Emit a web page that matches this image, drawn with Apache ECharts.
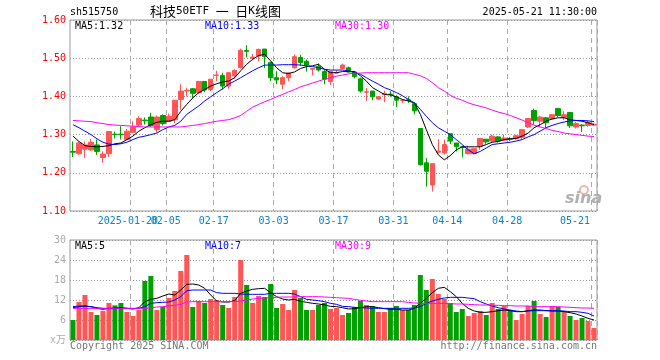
<!DOCTYPE html>
<html><head><meta charset="utf-8">
<script src="https://cdn.jsdelivr.net/npm/echarts@6/dist/echarts.min.js"></script>
<style>html,body{margin:0;padding:0;background:#fff}#c{width:660px;height:360px}</style>
</head><body><div id="c"></div>
<script>
const dates = [
 '2025-01-06','2025-01-07','2025-01-08','2025-01-09','2025-01-10','2025-01-13','2025-01-14','2025-01-15','2025-01-16','2025-01-17',
 '2025-01-20','2025-01-21','2025-01-22','2025-01-23','2025-01-24','2025-01-27','2025-02-05','2025-02-06','2025-02-07','2025-02-10',
 '2025-02-11','2025-02-12','2025-02-13','2025-02-14','2025-02-17','2025-02-18','2025-02-19','2025-02-20','2025-02-21','2025-02-24',
 '2025-02-25','2025-02-26','2025-02-27','2025-02-28','2025-03-03','2025-03-04','2025-03-05','2025-03-06','2025-03-07','2025-03-10',
 '2025-03-11','2025-03-12','2025-03-13','2025-03-14','2025-03-17','2025-03-18','2025-03-19','2025-03-20','2025-03-21','2025-03-24',
 '2025-03-25','2025-03-26','2025-03-27','2025-03-28','2025-03-31','2025-04-01','2025-04-02','2025-04-03','2025-04-07','2025-04-08',
 '2025-04-09','2025-04-10','2025-04-11','2025-04-14','2025-04-15','2025-04-16','2025-04-17','2025-04-18','2025-04-21','2025-04-22',
 '2025-04-23','2025-04-24','2025-04-25','2025-04-28','2025-04-29','2025-04-30','2025-05-06','2025-05-07','2025-05-08','2025-05-09',
 '2025-05-12','2025-05-13','2025-05-14','2025-05-15','2025-05-16','2025-05-19','2025-05-20','2025-05-21'];
const labelDates = ['2025-01-20','2025-02-05','2025-02-17','2025-03-03','2025-03-17','2025-03-31','2025-04-14','2025-04-28','2025-05-21'];

const opens = [1.256,1.250,1.262,1.260,1.273,1.240,1.250,1.301,1.301,1.287,
 1.306,1.325,1.338,1.346,1.313,1.350,1.335,1.339,1.392,1.414,
 1.420,1.410,1.439,1.418,1.455,1.455,1.427,1.454,1.475,1.520,
 1.500,1.506,1.524,1.489,1.449,1.432,1.449,1.475,1.502,1.492,
 1.471,1.478,1.465,1.439,1.461,1.473,1.475,1.464,1.446,1.411,
 1.414,1.393,1.405,1.406,1.399,1.389,1.391,1.381,1.316,1.226,
 1.168,1.254,1.252,1.302,1.278,1.268,1.250,1.250,1.270,1.288,
 1.283,1.294,1.285,1.289,1.289,1.293,1.320,1.363,1.335,1.344,
 1.341,1.368,1.345,1.358,1.320,1.325,1.324,1.325];
const closes = [1.254,1.278,1.273,1.280,1.256,1.249,1.308,1.300,1.300,1.309,
 1.320,1.342,1.336,1.324,1.346,1.329,1.348,1.390,1.414,1.416,
 1.408,1.439,1.417,1.445,1.456,1.427,1.462,1.468,1.521,1.518,
 1.503,1.523,1.504,1.449,1.443,1.449,1.461,1.504,1.489,1.482,
 1.473,1.469,1.445,1.465,1.462,1.482,1.464,1.452,1.414,1.412,
 1.399,1.399,1.408,1.405,1.390,1.390,1.390,1.362,1.221,1.204,
 1.224,1.257,1.274,1.283,1.268,1.266,1.262,1.263,1.290,1.281,
 1.296,1.283,1.291,1.288,1.297,1.313,1.342,1.337,1.346,1.331,
 1.352,1.350,1.352,1.323,1.329,1.323,1.332,1.327];
const lows = [1.241,1.247,1.239,1.258,1.247,1.226,1.241,1.290,1.287,1.287,
 1.305,1.322,1.326,1.320,1.306,1.324,1.335,1.330,1.365,1.400,
 1.396,1.406,1.411,1.414,1.440,1.418,1.420,1.447,1.473,1.502,
 1.495,1.492,1.474,1.440,1.432,1.419,1.440,1.473,1.480,1.465,
 1.455,1.465,1.432,1.430,1.460,1.471,1.462,1.447,1.410,1.388,
 1.390,1.391,1.385,1.399,1.372,1.383,1.383,1.353,1.219,1.164,
 1.151,1.250,1.248,1.275,1.256,1.240,1.248,1.248,1.260,1.276,
 1.281,1.279,1.283,1.283,1.287,1.288,1.317,1.327,1.322,1.318,
 1.339,1.346,1.338,1.317,1.316,1.307,1.320,1.322];
const highs = [1.282,1.282,1.282,1.289,1.287,1.256,1.308,1.308,1.322,1.315,
 1.335,1.348,1.345,1.357,1.350,1.353,1.355,1.390,1.432,1.423,
 1.422,1.441,1.439,1.445,1.467,1.462,1.462,1.471,1.525,1.534,
 1.511,1.525,1.524,1.489,1.466,1.453,1.463,1.510,1.509,1.497,
 1.474,1.486,1.469,1.467,1.469,1.486,1.478,1.467,1.449,1.422,
 1.414,1.401,1.415,1.414,1.403,1.393,1.400,1.385,1.316,1.239,
 1.224,1.288,1.287,1.302,1.278,1.271,1.271,1.264,1.291,1.288,
 1.300,1.296,1.300,1.294,1.300,1.315,1.342,1.368,1.349,1.346,
 1.354,1.370,1.361,1.358,1.333,1.327,1.336,1.331];

const ma5 = [1.296,1.282,1.271,1.269,1.268,1.269,1.271,1.276,1.278,1.287,
 1.296,1.309,1.318,1.326,1.332,1.335,1.335,1.339,1.361,1.379,
 1.396,1.410,1.418,1.427,1.433,1.438,1.440,1.449,1.467,1.484,
 1.497,1.507,1.510,1.493,1.475,1.462,1.460,1.464,1.473,1.478,
 1.480,1.484,1.471,1.462,1.462,1.465,1.465,1.465,1.454,1.440,
 1.423,1.414,1.405,1.404,1.399,1.392,1.388,1.383,1.353,1.313,
 1.274,1.247,1.234,1.245,1.260,1.268,1.268,1.268,1.268,1.274,
 1.280,1.282,1.287,1.289,1.290,1.296,1.304,1.318,1.326,1.335,
 1.341,1.344,1.344,1.339,1.337,1.335,1.331,1.326];
const ma10 = [1.326,1.318,1.309,1.300,1.289,1.280,1.275,1.274,1.276,1.280,
 1.287,1.293,1.296,1.300,1.304,1.313,1.320,1.324,1.335,1.353,
 1.364,1.375,1.388,1.399,1.410,1.420,1.432,1.440,1.449,1.458,
 1.467,1.475,1.482,1.482,1.482,1.483,1.483,1.483,1.482,1.480,
 1.478,1.475,1.471,1.469,1.469,1.469,1.467,1.462,1.458,1.449,
 1.440,1.432,1.423,1.417,1.410,1.402,1.392,1.383,1.366,1.348,
 1.331,1.318,1.309,1.300,1.287,1.274,1.260,1.250,1.256,1.265,
 1.274,1.276,1.278,1.280,1.283,1.287,1.294,1.300,1.309,1.318,
 1.324,1.329,1.333,1.336,1.337,1.337,1.336,1.334];
const ma30 = [1.337,1.336,1.335,1.334,1.331,1.329,1.326,1.325,1.324,1.323,
 1.322,1.321,1.320,1.320,1.320,1.320,1.320,1.320,1.320,1.322,
 1.324,1.326,1.329,1.332,1.335,1.337,1.339,1.344,1.350,1.361,
 1.372,1.379,1.386,1.392,1.399,1.405,1.412,1.418,1.425,1.430,
 1.435,1.440,1.445,1.449,1.453,1.456,1.459,1.461,1.461,1.462,
 1.462,1.462,1.462,1.462,1.462,1.462,1.462,1.458,1.454,1.447,
 1.436,1.423,1.414,1.403,1.395,1.390,1.383,1.378,1.374,1.370,
 1.364,1.359,1.355,1.350,1.344,1.338,1.331,1.325,1.320,1.316,
 1.311,1.308,1.304,1.302,1.300,1.298,1.296,1.295];

const volumes = [6.0,11.4,13.5,8.4,7.5,8.7,11.1,10.4,11.1,8.4,
 7.2,9.0,17.7,19.2,9.0,9.9,12.6,14.7,20.7,25.5,
 9.9,11.7,11.1,12.3,12.0,10.5,9.6,12.9,24.0,16.5,
 11.1,13.2,12.9,16.8,9.6,10.8,9.0,15.0,12.6,9.0,
 9.0,10.5,11.1,9.3,9.6,7.5,8.1,9.9,11.7,10.5,
 10.2,8.4,8.4,9.6,10.2,9.0,9.0,10.5,19.5,15.0,
 18.3,13.8,12.3,11.1,8.4,9.3,7.2,8.1,8.7,7.5,
 11.1,9.3,10.2,9.0,6.0,7.8,10.2,11.7,7.8,6.9,
 10.2,9.9,8.7,7.2,6.0,6.6,5.7,3.6];
const volMa5 = [9.7,10.0,10.2,10.0,9.5,9.2,9.5,9.6,9.7,9.5,
 9.3,9.7,11.5,12.2,12.5,13.2,13.8,13.5,15.0,16.7,
 16.8,16.5,15.5,13.5,11.7,11.4,11.4,11.8,14.0,14.7,
 15.2,15.4,15.5,14.2,13.0,12.3,12.0,12.2,11.6,11.3,
 11.0,10.8,10.5,10.1,10.0,9.7,9.3,9.4,9.7,10.0,
 10.0,9.7,9.4,9.2,9.2,9.0,9.0,9.5,11.0,12.5,
 14.2,15.5,15.8,14.5,13.0,11.0,9.5,8.7,8.3,8.3,
 8.5,8.8,9.0,8.8,8.5,8.5,8.8,9.0,9.0,8.8,
 8.7,8.7,8.5,8.2,7.8,7.2,6.5,6.0];
const volMa10 = [10.0,10.2,10.2,10.0,9.7,9.5,9.4,9.4,9.5,9.5,
 9.4,9.5,10.0,11.0,11.2,11.3,11.4,12.0,13.0,14.8,
 15.0,15.0,15.0,15.0,14.2,14.0,14.0,14.0,13.8,13.7,
 13.7,13.7,13.7,14.0,14.0,14.0,14.0,13.8,13.0,12.2,
 12.0,11.8,11.5,11.0,10.7,10.1,10.0,9.8,9.7,9.6,
 9.5,9.5,9.5,9.5,9.5,9.5,9.5,9.6,10.0,11.0,
 11.7,12.2,12.6,12.8,12.8,12.8,12.6,12.4,11.5,10.8,
 10.2,9.7,9.3,9.0,8.7,8.5,8.7,8.8,8.8,8.8,
 8.8,8.8,8.7,8.5,8.5,8.3,8.0,7.2];
const volMa30 = [9.5,9.5,9.5,9.5,9.5,9.5,9.5,9.5,9.5,9.5,
 9.5,9.5,9.5,9.6,9.9,10.0,10.2,10.4,10.7,11.4,
 11.5,11.5,11.5,11.5,11.5,11.5,11.5,11.5,11.7,12.0,
 12.3,12.5,12.6,12.7,12.8,12.9,12.9,12.9,13.0,13.0,
 13.0,13.0,12.9,12.8,12.7,12.6,12.5,12.2,11.9,11.7,
 11.5,11.5,11.5,11.5,11.5,11.5,11.3,11.1,11.0,11.0,
 11.0,11.0,11.0,10.9,10.8,10.8,10.7,10.6,10.5,10.5,
 10.4,10.4,10.3,10.3,10.2,10.2,10.2,10.0,10.0,10.0,
 10.0,10.0,9.9,9.8,9.7,9.6,9.6,9.5];

const UP = '#ff5555', DOWN = '#00a000';
const MONO = '"DejaVu Sans Mono", "Liberation Mono", monospace';
const labelSet = new Set(labelDates);
const firstDate = labelDates[0];
const lastDate = labelDates[labelDates.length - 1];

const candleData = dates.map((d, i) => [opens[i], closes[i], lows[i], highs[i]]);
const volData = volumes.map((v, i) => ({ value: v, itemStyle: { color: closes[i] >= opens[i] ? UP : DOWN } }));

const richLabel = {
  a: { padding: [0, 6, 0, 0], color: '#0a84c8', fontFamily: MONO, fontSize: 10 },
  f: { padding: [0, 10, 0, 0], color: '#0a84c8', fontFamily: MONO, fontSize: 10 },
  e: { padding: [0, 38, 0, 0], color: '#0a84c8', fontFamily: MONO, fontSize: 10 }
};

function xAxisCfg(grid, showLabels, labelFilter, showSplit) {
  return {
    type: 'category', gridIndex: grid, data: dates, boundaryGap: true, position: 'bottom', offset: 0,
    axisLine: { show: false }, axisTick: { show: false },
    axisLabel: {
      show: showLabels, interval: (i, v) => labelFilter(v), margin: 5, hideOverlap: false,
      color: '#0a84c8', fontFamily: MONO, fontSize: 10,
      formatter: v => {
        if (v === firstDate) return '{f|' + v + '}';
        if (v === lastDate) return '{e|' + v.slice(5) + '}';
        return '{a|' + v.slice(5) + '}';
      },
      rich: richLabel
    },
    splitLine: { show: showSplit, interval: (i, v) => labelSet.has(v), lineStyle: { color: '#aaa', type: [5, 4], width: 1 } }
  };
}

const chart = echarts.init(document.getElementById('c'), null, { renderer: 'canvas' });
chart.setOption({
  animation: false,
  backgroundColor: '#fff',
  grid: [
    { left: 70, top: 20, width: 527, height: 191, show: true, borderColor: '#999', borderWidth: 1, backgroundColor: 'transparent' },
    { left: 70, top: 240, width: 527, height: 100, show: true, borderColor: '#999', borderWidth: 1, backgroundColor: 'transparent' }
  ],
  xAxis: [
    xAxisCfg(0, true, v => labelSet.has(v) && v !== firstDate, true),
    xAxisCfg(1, false, v => false, true),
    xAxisCfg(0, true, v => v === firstDate, false)
  ],
  yAxis: [
    { type: 'value', gridIndex: 0, min: 1.1, max: 1.6, interval: 0.1, scale: true,
      axisLine: { show: false }, axisTick: { show: false },
      axisLabel: { color: '#ff0000', fontFamily: MONO, fontSize: 10, margin: 4, formatter: v => v.toFixed(2) },
      splitLine: { lineStyle: { color: '#999', type: [1, 2] } } },
    { type: 'value', gridIndex: 1, min: 0, max: 30, interval: 6,
      axisLine: { show: false }, axisTick: { show: false },
      axisLabel: { color: '#aaa', fontFamily: MONO + ', "Noto Sans CJK SC"', fontSize: 10, margin: 4, formatter: v => v === 0 ? 'x万' : String(v) },
      splitLine: { lineStyle: { color: '#999', type: [1, 2] } } }
  ],
  series: [
    { type: 'candlestick', xAxisIndex: 0, yAxisIndex: 0, data: candleData, barWidth: 5,
      itemStyle: { color: UP, color0: DOWN, borderColor: UP, borderColor0: DOWN, borderWidth: 1 } },
    { type: 'line', xAxisIndex: 0, yAxisIndex: 0, data: ma5, showSymbol: false, lineStyle: { color: '#000', width: 1 } },
    { type: 'line', xAxisIndex: 0, yAxisIndex: 0, data: ma10, showSymbol: false, lineStyle: { color: '#0000ff', width: 1 } },
    { type: 'line', xAxisIndex: 0, yAxisIndex: 0, data: ma30, showSymbol: false, lineStyle: { color: '#ff00ff', width: 1 } },
    { type: 'bar', xAxisIndex: 1, yAxisIndex: 1, data: volData, barWidth: 5 },
    { type: 'line', xAxisIndex: 1, yAxisIndex: 1, data: volMa5, showSymbol: false, lineStyle: { color: '#000', width: 1 } },
    { type: 'line', xAxisIndex: 1, yAxisIndex: 1, data: volMa10, showSymbol: false, lineStyle: { color: '#0000ff', width: 1 } },
    { type: 'line', xAxisIndex: 1, yAxisIndex: 1, data: volMa30, showSymbol: false, lineStyle: { color: '#ff00ff', width: 1 } }
  ],
  graphic: [
    { type: 'text', left: 70, top: 7, style: { text: 'sh515750', font: '10px ' + MONO, fill: '#000' } },
    { type: 'text', left: 150, top: 5, style: {
        text: '{a|科技}{b|50ETF }{a|一}{b| }{a|日}{b|K}{a|线图}',
        rich: { a: { font: '13px "Noto Sans CJK SC"', fill: '#000' }, b: { font: '11px ' + MONO, fill: '#000' } } } },
    { type: 'text', right: 63, top: 7, style: { text: '2025-05-21 11:30:00', font: '10px ' + MONO, fill: '#000' } },
    { type: 'text', left: 75, top: 21, style: { text: 'MA5:1.32', font: '10px ' + MONO, fill: '#000' } },
    { type: 'text', left: 205, top: 21, style: { text: 'MA10:1.33', font: '10px ' + MONO, fill: '#0000ff' } },
    { type: 'text', left: 335, top: 21, style: { text: 'MA30:1.30', font: '10px ' + MONO, fill: '#ff00ff' } },
    { type: 'text', left: 75, top: 241, style: { text: 'MA5:5', font: '10px ' + MONO, fill: '#000' } },
    { type: 'text', left: 205, top: 241, style: { text: 'MA10:7', font: '10px ' + MONO, fill: '#0000ff' } },
    { type: 'text', left: 335, top: 241, style: { text: 'MA30:9', font: '10px ' + MONO, fill: '#ff00ff' } },
    { type: 'text', left: 70, top: 341, style: { text: 'Copyright 2025 SINA.COM', font: '10px ' + MONO, fill: '#777' } },
    { type: 'text', right: 63, top: 341, style: { text: 'http://finance.sina.com.cn', font: '10px ' + MONO, fill: '#777' } },
    { type: 'circle', shape: { cx: 584, cy: 190, r: 4 }, style: { fill: 'none', stroke: '#f4b4b4', lineWidth: 2 } },
    { type: 'text', left: 565, top: 191, style: { text: 'sina', font: 'italic bold 16px "DejaVu Sans"', fill: '#b0b0b0' } }
  ]
});
</script></body></html>
